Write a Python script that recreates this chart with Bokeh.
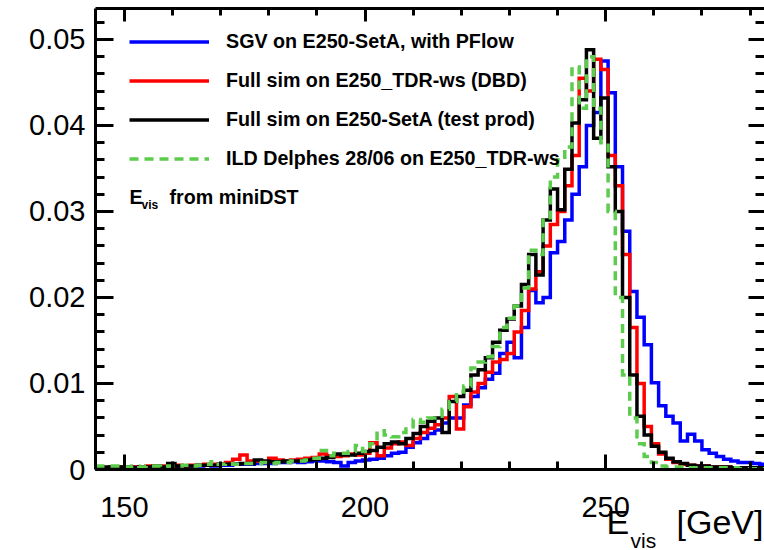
from bokeh.plotting import figure
from bokeh.models import (Range1d, LinearAxis, SingleIntervalTicker, CustomJSTickFormatter,
                          Legend, LegendItem, Label)
from bokeh.embed import file_html
from bokeh.resources import INLINE

# ---------------- data (histograms, 1.5 GeV bins starting at 144 GeV) ----------------
bin_start = 144.0
bin_width = 1.5

sgv_pflow = [
    0.0002, 0.0002, 0.0003, 0.0002, 0.0002, 0.0003, 0.0002, 0.0003, 0.0003, 0.0003,
    0.0004, 0.0003, 0.0004, 0.0004, 0.0004, 0.0005, 0.0004, 0.0005, 0.0005, 0.0006,
    0.0006, 0.0006, 0.0007, 0.0007, 0.0007, 0.0008, 0.0008, 0.0009, 0.0008, 0.0009,
    0.0010, 0.0010, 0.0009, 0.0008, 0.0004, 0.0008, 0.0010, 0.0011, 0.0012, 0.0013,
    0.0016, 0.0019, 0.0020, 0.0026, 0.0031, 0.0036, 0.0042, 0.0046, 0.0054, 0.0060,
    0.0060, 0.0075, 0.0085, 0.0095, 0.0105, 0.0112, 0.0135, 0.0148, 0.0130, 0.0165,
    0.0208, 0.0194, 0.0200, 0.0252, 0.0265, 0.0290, 0.0320, 0.0352, 0.0400, 0.0415,
    0.0475, 0.0438, 0.0352, 0.0277, 0.0207, 0.0177, 0.0145, 0.0101, 0.0074, 0.0062,
    0.0054, 0.0033, 0.0041, 0.0033, 0.0023, 0.0019, 0.0015, 0.0012, 0.0010, 0.0008,
    0.0008, 0.0007, 0.0006,
]

fullsim_dbd = [
    0.0003, 0.0002, 0.0003, 0.0003, 0.0002, 0.0003, 0.0003, 0.0004, 0.0003, 0.0004,
    0.0004, 0.0005, 0.0004, 0.0005, 0.0005, 0.0006, 0.0006, 0.0006, 0.0008, 0.0012,
    0.0017, 0.0010, 0.0010, 0.0009, 0.0013, 0.0011, 0.0010, 0.0011, 0.0012, 0.0013,
    0.0014, 0.0018, 0.0016, 0.0015, 0.0016, 0.0018, 0.0017, 0.0019, 0.0031, 0.0016,
    0.0025, 0.0030, 0.0032, 0.0028, 0.0036, 0.0043, 0.0048, 0.0052, 0.0060, 0.0085,
    0.0047, 0.0073, 0.0090, 0.0100, 0.0113, 0.0125, 0.0128, 0.0135, 0.0160, 0.0185,
    0.0210, 0.0230, 0.0260, 0.0285, 0.0300, 0.0330, 0.0365, 0.0455, 0.0440, 0.0477,
    0.0465, 0.0365, 0.0330, 0.0250, 0.0165, 0.0100, 0.0050, 0.0030, 0.0018, 0.0012,
    0.0008, 0.0006, 0.0005, 0.0004, 0.0004, 0.0003, 0.0003, 0.0003, 0.0002, 0.0002,
    0.0002, 0.0002, 0.0002,
]

fullsim_setA = [
    0.0003, 0.0003, 0.0002, 0.0003, 0.0003, 0.0002, 0.0003, 0.0003, 0.0004, 0.0003,
    0.0007, 0.0004, 0.0004, 0.0004, 0.0005, 0.0005, 0.0005, 0.0006, 0.0006, 0.0006,
    0.0007, 0.0007, 0.0011, 0.0010, 0.0009, 0.0009, 0.0010, 0.0010, 0.0010, 0.0011,
    0.0012, 0.0013, 0.0014, 0.0018, 0.0017, 0.0017, 0.0019, 0.0021, 0.0022, 0.0026,
    0.0030, 0.0032, 0.0030, 0.0036, 0.0042, 0.0050, 0.0056, 0.0060, 0.0043, 0.0079,
    0.0085, 0.0092, 0.0110, 0.0116, 0.0130, 0.0148, 0.0162, 0.0175, 0.0190, 0.0215,
    0.0250, 0.0226, 0.0290, 0.0326, 0.0302, 0.0349, 0.0403, 0.0430, 0.0488, 0.0385,
    0.0432, 0.0352, 0.0300, 0.0200, 0.0110, 0.0062, 0.0040, 0.0027, 0.0020, 0.0013,
    0.0009, 0.0007, 0.0005, 0.0004, 0.0004, 0.0003, 0.0003, 0.0003, 0.0002, 0.0002,
    0.0002, 0.0002, 0.0002,
]

delphes = [
    0.0004, 0.0004, 0.0004, 0.0004, 0.0003, 0.0004, 0.0003, 0.0004, 0.0004, 0.0003,
    0.0004, 0.0004, 0.0005, 0.0004, 0.0005, 0.0006, 0.0009, 0.0006, 0.0007, 0.0006,
    0.0007, 0.0007, 0.0007, 0.0008, 0.0007, 0.0008, 0.0008, 0.0010, 0.0010, 0.0011,
    0.0013, 0.0022, 0.0016, 0.0019, 0.0019, 0.0021, 0.0028, 0.0021, 0.0030, 0.0045,
    0.0040, 0.0038, 0.0043, 0.0047, 0.0058, 0.0055, 0.0060, 0.0062, 0.0070, 0.0079,
    0.0090, 0.0097, 0.0118, 0.0125, 0.0131, 0.0143, 0.0165, 0.0176, 0.0190, 0.0211,
    0.0255, 0.0250, 0.0290, 0.0340, 0.0360, 0.0375, 0.0468, 0.0420, 0.0480, 0.0420,
    0.0380, 0.0300, 0.0200, 0.0110, 0.0060, 0.0030, 0.0015, 0.0008, 0.0004, 0.0003,
    0.0003, 0.0003, 0.0002, 0.0002, 0.0002, 0.0002, 0.0002, 0.0002, 0.0002, 0.0001,
    0.0001, 0.0001, 0.0001,
]

series_labels = [
    "SGV on E250-SetA, with PFlow",
    "Full sim on E250_TDR-ws (DBD)",
    "Full sim on E250-SetA (test prod)",
    "ILD Delphes 28/06 on E250_TDR-ws",
]
note_main = "E"
note_sub = "vis"
note_rest = "from miniDST"
xtitle_main = "E"
xtitle_sub = "vis"
xtitle_rest = "[GeV]"

x_major_step = 50
y_major_step = 0.01

# ---------------- figure ----------------
FONT = "Liberation Sans"
p = figure(width=764, height=550, output_backend="svg", toolbar_location=None, tools="",
           x_range=Range1d(144.0, 283.0), y_range=Range1d(0.0, 0.0536),
           min_border_left=94, min_border_right=0, min_border_top=8, min_border_bottom=81,
           background_fill_color="white", border_fill_color="white",
           outline_line_color=None, x_axis_location=None, y_axis_location=None)
p.xgrid.visible = False
p.ygrid.visible = False


def style_axis(ax, labels=True, line=True, major_len=16, minor_len=8):
    ax.axis_line_color = "black" if line else None
    ax.axis_line_width = 3
    ax.major_tick_line_width = 3
    ax.minor_tick_line_width = 3
    ax.major_tick_line_color = "black"
    ax.minor_tick_line_color = "black"
    ax.major_tick_in = major_len
    ax.major_tick_out = 0
    ax.minor_tick_in = minor_len
    ax.minor_tick_out = 0
    if labels:
        ax.major_label_text_font = FONT
        ax.major_label_text_font_size = "29px"
        ax.major_label_text_color = "black"
    else:
        ax.formatter = CustomJSTickFormatter(code="return '';")
        ax.major_label_text_font_size = "1px"
        ax.major_label_standoff = 0


xt = SingleIntervalTicker(interval=x_major_step, num_minor_ticks=5)
yt = SingleIntervalTicker(interval=y_major_step, num_minor_ticks=5)
yfmt = CustomJSTickFormatter(code="return tick == 0 ? '0' : tick.toFixed(2);")

NB = "\u00a0"    # keeps the gap for the subscript
EM = "\u2003"    # pushes the centred title towards the right end of the axis
xb = LinearAxis(ticker=xt)
style_axis(xb, major_len=15, minor_len=8)
xb.major_label_standoff = 27
xb.axis_label = EM * 15 + xtitle_main + NB * 5 + xtitle_rest
xb.axis_label_standoff = -17
xb.axis_label_text_font = FONT
xb.axis_label_text_font_size = "34px"
xb.axis_label_text_font_style = "normal"
xb.axis_label_text_color = "black"
p.add_layout(xb, "below")

xa = LinearAxis(ticker=xt)
style_axis(xa, labels=False, major_len=13, minor_len=7)
p.add_layout(xa, "above")

yl = LinearAxis(ticker=yt, formatter=yfmt)
style_axis(yl, major_len=18, minor_len=9)
yl.major_label_standoff = 10
p.add_layout(yl, "left")

yr = LinearAxis(ticker=yt)
style_axis(yr, labels=False, line=False, major_len=16, minor_len=9)
p.add_layout(yr, "right")

# ---------------- histograms ----------------
def edges_and_values(vals):
    xs = [bin_start + bin_width * i for i in range(len(vals) + 1)]
    ys = list(vals) + [vals[-1]]
    return xs, ys

colors = ["#0000ff", "#ff0000", "#000000", "#5ccc4c"]
dashes = ["solid", "solid", "solid", "9 6"]
renderers = []
for vals, c, d in zip([sgv_pflow, fullsim_dbd, fullsim_setA, delphes], colors, dashes):
    xs, ys = edges_and_values(vals)
    r = p.step(xs, ys, mode="after", line_color=c, line_width=3.5, line_dash=d,
               line_join="miter")
    renderers.append(r)

legend = Legend(items=[LegendItem(label=lab, renderers=[r]) for lab, r in zip(series_labels, renderers)],
                location=(34, 291), orientation="vertical",
                glyph_width=80, glyph_height=39, label_height=39, label_standoff=17,
                spacing=0, padding=0, margin=0,
                border_line_color=None, background_fill_alpha=0,
                label_text_font=FONT, label_text_font_style="bold",
                label_text_font_size="19.7px", label_text_color="black")
p.add_layout(legend)

# note "E_vis from miniDST"
p.add_layout(Label(x=34, y=273, x_units="screen", y_units="screen", text=note_main,
                   text_font=FONT, text_font_style="bold", text_font_size="19.7px",
                   text_baseline="middle", text_color="black"))
p.add_layout(Label(x=46, y=265, x_units="screen", y_units="screen", text=note_sub,
                   text_font=FONT, text_font_style="bold", text_font_size="12px",
                   text_baseline="middle", text_color="black"))
p.add_layout(Label(x=74, y=273, x_units="screen", y_units="screen", text=note_rest,
                   text_font=FONT, text_font_style="bold", text_font_size="19.7px",
                   text_baseline="middle", text_color="black"))

# subscript of the x-axis title (in the left side panel so it is not clipped by the frame)
p.add_layout(Label(x=630, y=-71, x_units="screen", y_units="screen", text=xtitle_sub,
                   text_font=FONT, text_font_size="21px", text_baseline="alphabetic",
                   text_color="black"), "left")

open("out.html", "w").write(file_html(p, INLINE))
